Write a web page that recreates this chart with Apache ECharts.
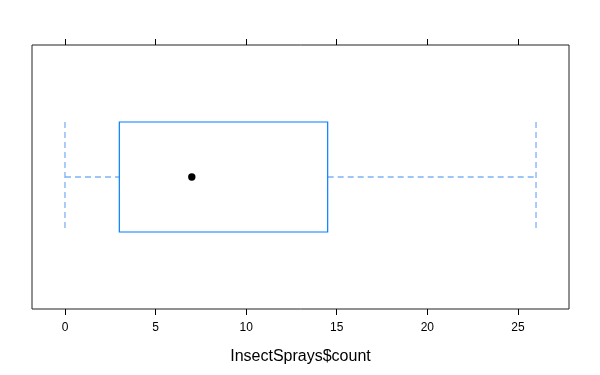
<!DOCTYPE html>
<html>
<head>
<meta charset="utf-8">
<script src="https://cdn.jsdelivr.net/npm/echarts@6/dist/echarts.min.js"></script>
<style>html,body{margin:0;padding:0;background:#fff;}#c{width:600px;height:375px;}</style>
</head>
<body>
<div id="c"></div>
<script>
// five-number summary of InsectSprays$count: min, Q1, median, Q3, max
var stats = [0, 3, 7, 14.5, 26];
var tickValues = [0, 5, 10, 15, 20, 25];
var xTitle = 'InsectSprays$count';

var chart = echarts.init(document.getElementById('c'), null, {renderer: 'canvas'});
var BLUE = '#0080ff';
var WHISK = '#7fb2f5';
var ff = 'Liberation Sans, Arial, Helvetica, sans-serif';

function renderItem(params, api) {
  var mn = api.value(0), q1 = api.value(1), md = api.value(2), q3 = api.value(3), mx = api.value(4);
  var c = function (x, y) { return api.coord([x, y]); };
  var top = 1.25, bot = 0.75, mid = 1;
  var pMnT = c(mn, top), pMnB = c(mn, bot), pMnM = c(mn, mid);
  var pQ1T = c(q1, top), pQ1B = c(q1, bot), pQ1M = c(q1, mid);
  var pQ3T = c(q3, top), pQ3M = c(q3, mid);
  var pMxT = c(mx, top), pMxB = c(mx, bot), pMxM = c(mx, mid);
  var pMd = c(md, mid);
  var dash = {stroke: WHISK, lineWidth: 1.3, lineDash: [6, 4], fill: null};
  return {
    type: 'group',
    children: [
      {type: 'line', shape: {x1: pMnM[0], y1: pMnM[1], x2: pQ1M[0], y2: pQ1M[1]}, style: dash},
      {type: 'line', shape: {x1: pQ3M[0], y1: pQ3M[1], x2: pMxM[0], y2: pMxM[1]}, style: dash},
      {type: 'line', shape: {x1: pMnT[0], y1: pMnT[1], x2: pMnB[0], y2: pMnB[1]}, style: dash},
      {type: 'line', shape: {x1: pMxT[0], y1: pMxT[1], x2: pMxB[0], y2: pMxB[1]}, style: dash},
      {type: 'rect', shape: {x: pQ1T[0], y: pQ1T[1], width: pQ3T[0] - pQ1T[0], height: pQ1B[1] - pQ1T[1]},
        style: {stroke: BLUE, lineWidth: 1.2, fill: null}},
      {type: 'circle', shape: {cx: pMd[0], cy: pMd[1], r: 3.7}, style: {fill: '#000', stroke: null}}
    ]
  };
}

var rng = stats[4] - stats[0];
var xmin = stats[0] - 0.07 * rng, xmax = stats[4] + 0.07 * rng;

function mkX(pos, showLabel) {
  return {
    type: 'value', position: pos, min: xmin, max: xmax,
    splitLine: {show: false},
    axisLine: {show: false},
    axisTick: {show: true, inside: false, length: 6, lineStyle: {color: '#000', width: 1}, customValues: tickValues},
    axisLabel: {show: showLabel, customValues: tickValues, color: '#000', fontSize: 12, fontFamily: ff, margin: 13},
    name: showLabel ? xTitle : '', nameLocation: 'middle', nameGap: 40,
    nameTextStyle: {color: '#000', fontSize: 16, fontFamily: ff}
  };
}

chart.setOption({
  animation: false,
  backgroundColor: '#fff',
  grid: {left: 32, right: 31, top: 45, bottom: 66, show: true, borderColor: '#222', borderWidth: 1, backgroundColor: 'transparent'},
  xAxis: [mkX('bottom', true), mkX('top', false)],
  yAxis: {type: 'value', min: 0.4, max: 1.6, show: false},
  series: [{
    type: 'custom',
    renderItem: renderItem,
    encode: {x: [0, 1, 2, 3, 4], y: []},
    data: [stats],
    clip: false
  }]
});
</script>
</body>
</html>
